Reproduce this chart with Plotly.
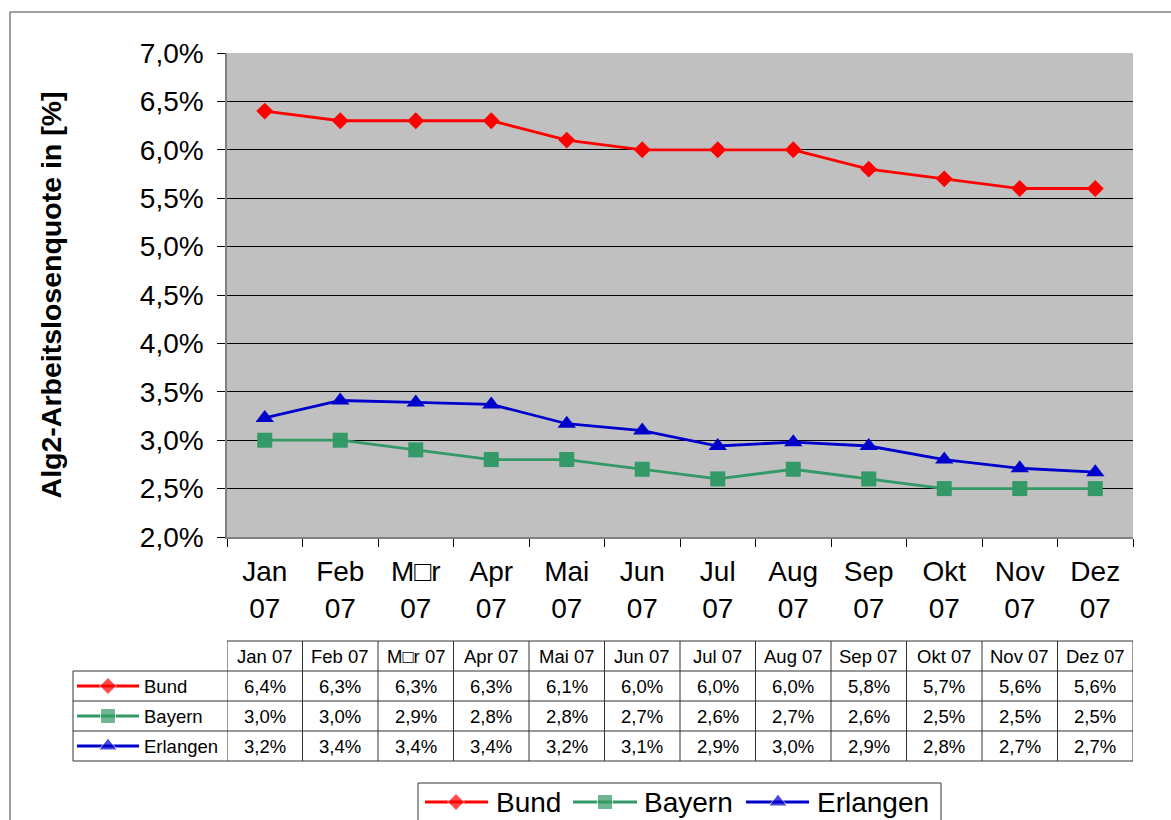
import plotly.graph_objects as go

# ---------------- data ----------------
months = ["Jan 07", "Feb 07", "M\u25a1r 07", "Apr 07", "Mai 07", "Jun 07",
          "Jul 07", "Aug 07", "Sep 07", "Okt 07", "Nov 07", "Dez 07"]
bund = [6.4, 6.3, 6.3, 6.3, 6.1, 6.0, 6.0, 6.0, 5.8, 5.7, 5.6, 5.6]
bayern = [3.0, 3.0, 2.9, 2.8, 2.8, 2.7, 2.6, 2.7, 2.6, 2.5, 2.5, 2.5]
erlangen = [3.23, 3.41, 3.39, 3.37, 3.17, 3.10, 2.94, 2.98, 2.94, 2.80, 2.71, 2.67]
series_names = ["Bund", "Bayern", "Erlangen"]
y_title = "Alg2-Arbeitslosenquote in [%]"

# ---------------- styling ----------------
W, H = 1171, 820
FONT = "Arial, 'Liberation Sans', sans-serif"
colors = ["#FF0000", "#339966", "#0000CC"]
symbols = ["diamond", "square", "triangle-up"]
msizes = [13, 15, 16]
values = [bund, bayern, erlangen]
cats = [m.replace(" ", "<br>") for m in months]

PL, PR, PT, PB = 227, 1133, 53, 537   # plot area in pixels


def fmt(v):
    return f"{v:.1f}".replace(".", ",") + "%"


fig = go.Figure()

# main series
for name, vals, col, sym, ms in zip(series_names, values, colors, symbols, msizes):
    fig.add_trace(go.Scatter(
        x=cats, y=vals, mode="lines+markers", name=name,
        line=dict(color=col, width=2.8),
        marker=dict(symbol=sym, size=ms, color=col),
        xaxis="x", yaxis="y", showlegend=False, cliponaxis=False,
        hoverinfo="skip"))

shapes = []
annotations = []

# gray plot background
shapes.append(dict(type="rect", xref="x domain", yref="y domain", x0=0, x1=1, y0=0, y1=1,
                   fillcolor="#C0C0C0", line=dict(width=0), layer="below"))

# outer chart border (left + top, rest is cut off)
border = "#808080"
shapes.append(dict(type="line", xref="x2", yref="y2", x0=10, x1=10, y0=12, y1=H + 5,
                   line=dict(color=border, width=1.5)))
shapes.append(dict(type="line", xref="x2", yref="y2", x0=10, x1=W + 5, y0=12, y1=12,
                   line=dict(color=border, width=1.5)))

# ---------------- data table ----------------
tcol = "#333333"
row_top = 641
row_h = 30
n = len(months)
for k in range(5):
    yy = row_top + k * row_h
    shapes.append(dict(type="line", xref="x", yref="y2", x0=-0.5, x1=n - 0.5, y0=yy, y1=yy,
                       line=dict(color=tcol, width=1)))
    if k >= 1:
        shapes.append(dict(type="line", xref="x2", yref="y2", x0=73, x1=PL, y0=yy, y1=yy,
                           line=dict(color=tcol, width=1)))
for i in range(n + 1):
    shapes.append(dict(type="line", xref="x", yref="y2", x0=i - 0.5, x1=i - 0.5,
                       y0=row_top, y1=row_top + 4 * row_h, line=dict(color=tcol, width=1)))
shapes.append(dict(type="line", xref="x2", yref="y2", x0=73, x1=73,
                   y0=row_top + row_h, y1=row_top + 4 * row_h, line=dict(color=tcol, width=1)))

tfont = dict(family=FONT, size=18.5, color="black")
for i, m in enumerate(months):
    annotations.append(dict(xref="x", yref="y2", x=cats[i], y=row_top + row_h / 2, text=m,
                            showarrow=False, font=tfont, xanchor="center", yanchor="middle"))
    for r, vals in enumerate(values):
        annotations.append(dict(xref="x", yref="y2", x=cats[i], y=row_top + row_h * (r + 1.5),
                                text=fmt(vals[i]), showarrow=False, font=tfont,
                                xanchor="center", yanchor="middle"))

# row labels with legend keys
for r, (name, col, sym, ms) in enumerate(zip(series_names, colors, symbols, msizes)):
    yy = row_top + row_h * (r + 1.5)
    fig.add_trace(go.Scatter(
        x=[77, 108, 139], y=[yy, yy, yy], mode="lines+markers",
        line=dict(color=col, width=2.8),
        marker=dict(symbol=sym, size=[0, ms, 0], color=col),
        xaxis="x2", yaxis="y2", showlegend=False, hoverinfo="skip", cliponaxis=False))
    annotations.append(dict(xref="x2", yref="y2", x=142, y=yy, text=name, showarrow=False,
                            font=tfont, xanchor="left", yanchor="middle"))

# ---------------- bottom legend ----------------
lg_top = 783
shapes.append(dict(type="line", xref="x2", yref="y2", x0=418, x1=941, y0=lg_top, y1=lg_top,
                   line=dict(color=tcol, width=1)))
shapes.append(dict(type="line", xref="x2", yref="y2", x0=418, x1=418, y0=lg_top, y1=H + 5,
                   line=dict(color=tcol, width=1)))
shapes.append(dict(type="line", xref="x2", yref="y2", x0=941, x1=941, y0=lg_top, y1=H + 5,
                   line=dict(color=tcol, width=1)))
leg_x = [(425, 456, 488, 494), (573, 605, 637, 642), (746, 778, 809, 815)]
lfont = dict(family=FONT, size=28, color="black")
for (a, b, c, t), name, col, sym, ms in zip(leg_x, series_names, colors, symbols, msizes):
    fig.add_trace(go.Scatter(
        x=[a, b, c], y=[802, 802, 802], mode="lines+markers",
        line=dict(color=col, width=2.8),
        marker=dict(symbol=sym, size=[0, ms, 0], color=col),
        xaxis="x2", yaxis="y2", showlegend=False, hoverinfo="skip", cliponaxis=False))
    annotations.append(dict(xref="x2", yref="y2", x=t, y=802, text=name, showarrow=False,
                            font=lfont, xanchor="left", yanchor="middle"))

fig.update_layout(
    width=W, height=H,
    margin=dict(l=0, r=0, t=0, b=0, autoexpand=False),
    paper_bgcolor="white",
    plot_bgcolor="rgba(0,0,0,0)",
    separators=",.",
    font=dict(family=FONT, color="black"),
    showlegend=False,
    shapes=shapes,
    annotations=annotations,
    xaxis=dict(domain=[PL / W, PR / W], type="category", range=[-0.5, n - 0.5],
               tickson="boundaries", ticks="outside", ticklen=8, tickcolor="black",
               showline=True, linecolor="#808080", linewidth=1.5, showgrid=False,
               ticklabelstandoff=9, automargin=False,
               tickfont=dict(family=FONT, size=28, color="black"), anchor="y",
               fixedrange=True),
    yaxis=dict(domain=[1 - PB / H, 1 - PT / H], range=[2, 7], tick0=2, dtick=0.5,
               tickformat=".1f", ticksuffix="%", showgrid=True, gridcolor="black",
               gridwidth=1, zeroline=False, showline=True, linecolor="#808080",
               linewidth=1.5, ticks="outside", ticklen=8, tickcolor="black",
               ticklabelstandoff=8, automargin=False,
               tickfont=dict(family=FONT, size=28, color="black"), anchor="x",
               title=dict(text=y_title, font=dict(family=FONT, size=28.5, color="black",
                                                  weight="bold"), standoff=70),
               fixedrange=True),
    xaxis2=dict(domain=[0, 1], range=[0, W], visible=False, anchor="y2", fixedrange=True),
    yaxis2=dict(domain=[0, 1], range=[H, 0], visible=False, anchor="x2", fixedrange=True),
)

fig.write_html("out.html", config={"displayModeBar": False},
               post_script="document.body.style.margin='0';")
